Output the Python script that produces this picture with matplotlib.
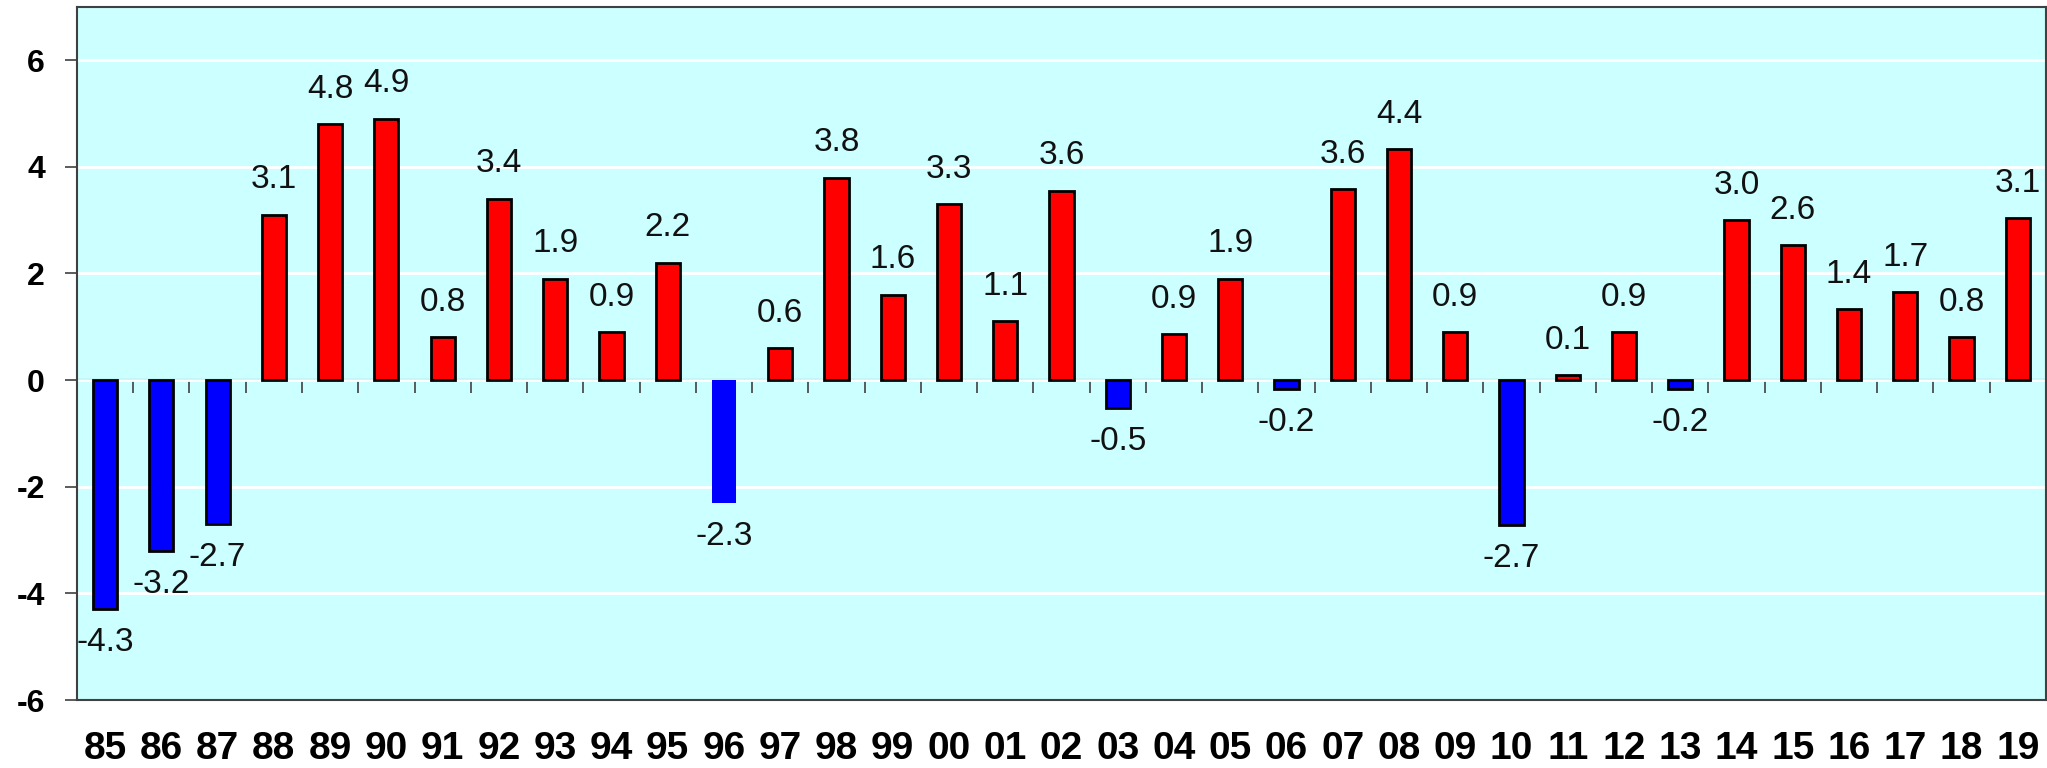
import numpy as np
import matplotlib.pyplot as plt

plt.rcParams['font.family'] = ['Liberation Sans', 'DejaVu Sans']
plt.rcParams['axes.unicode_minus'] = False

years = ['85', '86', '87', '88', '89', '90', '91', '92', '93', '94', '95', '96',
         '97', '98', '99', '00', '01', '02', '03', '04', '05', '06', '07', '08',
         '09', '10', '11', '12', '13', '14', '15', '16', '17', '18', '19']
# bar heights
heights = [-4.3, -3.2, -2.7, 3.1, 4.8, 4.9, 0.8, 3.4, 1.9, 0.9, 2.2, -2.3,
           0.6, 3.8, 1.6, 3.3, 1.1, 3.55, -0.53, 0.86, 1.9, -0.17, 3.58, 4.33,
           0.9, -2.72, 0.09, 0.9, -0.17, 3.0, 2.53, 1.33, 1.65, 0.8, 3.04]
# printed data labels
labels = ['-4.3', '-3.2', '-2.7', '3.1', '4.8', '4.9', '0.8', '3.4', '1.9', '0.9',
          '2.2', '-2.3', '0.6', '3.8', '1.6', '3.3', '1.1', '3.6', '-0.5', '0.9',
          '1.9', '-0.2', '3.6', '4.4', '0.9', '-2.7', '0.1', '0.9', '-0.2', '3.0',
          '2.6', '1.4', '1.7', '0.8', '3.1']

x = np.arange(len(years))
colors = ['#FF0000' if h > 0 else '#0000FF' for h in heights]
edges = ['none' if y == '96' else 'black' for y in years]

fig = plt.figure(figsize=(20.47, 7.68), dpi=100)
ax = fig.add_axes([0.0376, 0.0885, 0.9619, 0.9025])
ax.set_facecolor('#CCFFFF')

ax.bar(x, heights, width=0.43, color=colors, edgecolor=edges, linewidth=2, zorder=3)

for xi, h, lab in zip(x, heights, labels):
    if h >= 0:
        ax.annotate(lab, (xi, h), xytext=(0, 14), textcoords='offset points',
                    ha='center', va='bottom', fontsize=24, color='#111111', zorder=4)
    else:
        ax.annotate(lab, (xi, h), xytext=(0, -13), textcoords='offset points',
                    ha='center', va='top', fontsize=24, color='#111111', zorder=4)

ax.set_xlim(-0.5, len(years) - 0.5)
ax.set_ylim(-6, 7)
ax.set_yticks([-6, -4, -2, 0, 2, 4, 6])
ax.yaxis.grid(True, color='white', linewidth=2, zorder=0)
ax.set_axisbelow(True)

ax.set_xticks(x)
ax.set_xticklabels(years, fontsize=28, fontweight='bold')
ax.tick_params(axis='x', length=0, pad=22)
ax.tick_params(axis='y', length=9, width=1.2, color='#404040', pad=14)
for t in ax.get_yticklabels():
    t.set_fontweight('bold')
    t.set_fontsize(23)

for s in ax.spines.values():
    s.set_color('#404040')
    s.set_linewidth(1.5)

# zero line with category separator ticks
zero_pos = (0 - (-6)) / (7 - (-6))
sec = ax.secondary_xaxis(zero_pos)
sec.set_xticks(np.arange(-0.5, len(years), 1.0))
sec.tick_params(axis='x', direction='out', length=9, width=1.2, color='#404040',
                labelbottom=False, labeltop=False, bottom=True, top=False)
sec.spines['bottom'].set_color('#404040')
sec.spines['bottom'].set_linewidth(1.5)

fig.savefig('out.png', dpi=100)
